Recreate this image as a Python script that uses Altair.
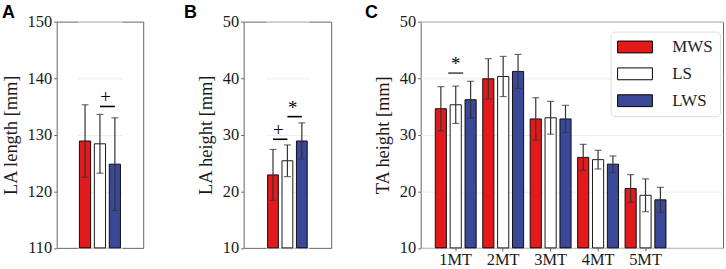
import altair as alt
import pandas as pd

series = ["MWS", "LS", "LWS"]
colors = ["#E31A1C", "#FFFFFF", "#3B4898"]

# Panel A: LA length [mm]
a_mean = [128.9, 128.4, 124.8]
a_err = [6.4, 5.2, 8.2]
# Panel B: LA height [mm]
b_mean = [22.9, 25.4, 28.9]
b_err = [4.5, 2.8, 3.2]
# Panel C: TA height [mm]
sites = ["1MT", "2MT", "3MT", "4MT", "5MT"]
c_mws = [34.6, 39.9, 32.8, 26.0, 20.5]
c_mws_err = [3.9, 3.55, 3.75, 2.3, 2.45]
c_ls = [35.3, 40.3, 33.0, 25.6, 19.3]
c_ls_err = [3.3, 3.55, 2.9, 1.65, 2.9]
c_lws = [36.2, 41.2, 32.8, 24.8, 18.5]
c_lws_err = [3.25, 3.0, 2.4, 1.45, 2.2]

# significance marks: (from, to, level, symbol)
a_sig = [("LS", "LWS", 135.0, "+")]
b_sig = [("MWS", "LS", 29.2, "+"), ("LS", "LWS", 33.2, "*")]
# panel C: (site, series left of mark, level, symbol)
c_sig = [("1MT", "LS", 40.9, "*")]

SERIF = "Liberation Serif"
FS = 16.5
ERR = "#333333"
H = 227.5


def letter(t, dx):
    return alt.TitleParams(t, anchor="start", frame="group", dx=dx, font="Liberation Sans",
                           fontSize=18, fontWeight="bold", color="black", offset=-8)


def small_panel(means, errs, sig, ymin, ymax, yvals, ytitle, lab, dx, xrange, width):
    df = pd.DataFrame({
        "series": series,
        "mean": means,
        "lo": [m - e for m, e in zip(means, errs)],
        "hi": [m + e for m, e in zip(means, errs)],
    })
    xsc = alt.Scale(domain=series, paddingInner=0.25, paddingOuter=0.125, range=xrange)
    ysc = alt.Scale(domain=[ymin, ymax], nice=False, zero=False)
    yax = alt.Axis(values=yvals, title=ytitle)
    x = alt.X("series:N", scale=xsc, axis=None)
    base = alt.Chart(df)
    bars = base.mark_bar(stroke="black", strokeWidth=0.9).encode(
        x=x,
        y=alt.Y("mean:Q", scale=ysc, axis=yax),
        y2=alt.datum(ymin),
        fill=alt.Fill("series:N", scale=alt.Scale(domain=series, range=colors), legend=None),
    )
    rules = base.mark_rule(color=ERR, strokeWidth=1.2).encode(
        x=x, y=alt.Y("lo:Q", scale=ysc, axis=yax), y2="hi:Q")
    cap_lo = base.mark_tick(color=ERR, size=7, thickness=1.2).encode(
        x=x, y=alt.Y("lo:Q", scale=ysc, axis=yax))
    cap_hi = base.mark_tick(color=ERR, size=7, thickness=1.2).encode(
        x=x, y=alt.Y("hi:Q", scale=ysc, axis=yax))
    sdf = pd.DataFrame(sig, columns=["a", "b", "lvl", "sym"])
    sline = alt.Chart(sdf).mark_rule(color="black", strokeWidth=1.6).encode(
        x=alt.X("a:N", scale=xsc, axis=None), x2="b:N",
        y=alt.Y("lvl:Q", scale=ysc, axis=yax))
    stext = alt.Chart(sdf).mark_text(font=SERIF, fontSize=19, baseline="alphabetic", dy=-3,
                                     color="black", fill="black").encode(
        x=alt.X("a:N", scale=xsc, axis=None, bandPosition=1),
        y=alt.Y("lvl:Q", scale=ysc, axis=yax), text="sym:N")
    return alt.layer(bars, rules, cap_lo, cap_hi, sline, stext).properties(
        width=width, height=H, title=letter(lab, dx))


panelA = small_panel(a_mean, a_err, a_sig, 110, 150, [110, 120, 130, 140, 150],
                     "LA length [mm]", "A", -55, [21, 66], 87)
panelB = small_panel(b_mean, b_err, b_sig, 10, 50, [10, 20, 30, 40, 50],
                     "LA height [mm]", "B", -60, [22.25, 65.75], 88)

rows = []
for s, vals, errs in [("MWS", c_mws, c_mws_err), ("LS", c_ls, c_ls_err), ("LWS", c_lws, c_lws_err)]:
    for site, v, e in zip(sites, vals, errs):
        rows.append({"site": site, "series": s, "mean": v, "lo": v - e, "hi": v + e})
dfC = pd.DataFrame(rows)

xscC = alt.Scale(domain=sites, paddingInner=0, paddingOuter=0.686, align=0.174)
xaxC = alt.Axis(title=None, labelAngle=0, ticks=True, labelPadding=1, grid=False)
xC = alt.X("site:N", scale=xscC, axis=xaxC)
xoscC = alt.Scale(domain=series, paddingInner=0.25, paddingOuter=0.22)
xo = alt.XOffset("series:N", scale=xoscC)
yscC = alt.Scale(domain=[10, 50], nice=False, zero=False)
yaxC = alt.Axis(values=[10, 20, 30, 40, 50], title="TA height [mm]")
baseC = alt.Chart(dfC)
barsC = baseC.mark_bar(stroke="black", strokeWidth=0.9).encode(
    x=xC, xOffset=xo,
    y=alt.Y("mean:Q", scale=yscC, axis=yaxC),
    y2=alt.datum(10),
    fill=alt.Fill("series:N", scale=alt.Scale(domain=series, range=colors),
                  legend=alt.Legend(title=None, orient="none", legendX=191, legendY=10,
                                    symbolType="M-2.5,-0.85H2.5V0.85H-2.5Z", symbolSize=196,
                                    symbolOffset=9, labelOffset=29, rowPadding=9,
                                    padding=7, symbolStrokeColor="black", symbolStrokeWidth=1,
                                    labelFont=SERIF, labelFontSize=17, labelColor="#222",
                                    strokeColor="#dddddd", fillColor="white", cornerRadius=4)),
)
rulesC = baseC.mark_rule(color=ERR, strokeWidth=1.2).encode(
    x=xC, xOffset=xo, y=alt.Y("lo:Q", scale=yscC, axis=yaxC), y2="hi:Q")
capLoC = baseC.mark_tick(color=ERR, size=7, thickness=1.2).encode(
    x=xC, xOffset=xo, y=alt.Y("lo:Q", scale=yscC, axis=yaxC))
capHiC = baseC.mark_tick(color=ERR, size=7, thickness=1.2).encode(
    x=xC, xOffset=xo, y=alt.Y("hi:Q", scale=yscC, axis=yaxC))
sdfC = pd.DataFrame(c_sig, columns=["site", "series", "lvl", "sym"])
slineC = alt.Chart(sdfC).mark_tick(color="black", size=15, thickness=1.6).encode(
    x=xC, xOffset=alt.XOffset("series:N", scale=xoscC, bandPosition=1),
    y=alt.Y("lvl:Q", scale=yscC, axis=yaxC))
stextC = alt.Chart(sdfC).mark_text(font=SERIF, fontSize=19, baseline="alphabetic", dy=-3,
                                   color="black", fill="black").encode(
    x=xC, xOffset=alt.XOffset("series:N", scale=xoscC, bandPosition=1),
    y=alt.Y("lvl:Q", scale=yscC, axis=yaxC), text="sym:N")
panelC = alt.layer(barsC, rulesC, capLoC, capHiC, slineC, stextC).properties(
    width=304, height=H, title=letter("C", -56))

chart = alt.hconcat(
    alt.hconcat(panelA, panelB, spacing=39),
    panelC, spacing=32,
).resolve_scale(fill="independent").properties(
    padding={"left": 0, "top": 2, "right": 2, "bottom": 0}
).configure_view(
    stroke="#666666", strokeWidth=1
).configure_axis(
    labelFont=SERIF, labelFontSize=FS, labelColor="#1a1a1a",
    titleFont=SERIF, titleFontSize=18.5, titleFontWeight="normal", titleColor="#1a1a1a",
    tickColor="#666666", tickSize=3, domain=False, labelPadding=2, titlePadding=7,
).configure_axisY(
    grid=True, gridColor="#eeeeee", gridWidth=1
).configure_axisX(grid=False)

chart.save("out.html", embed_options={"renderer": "svg", "actions": False})
